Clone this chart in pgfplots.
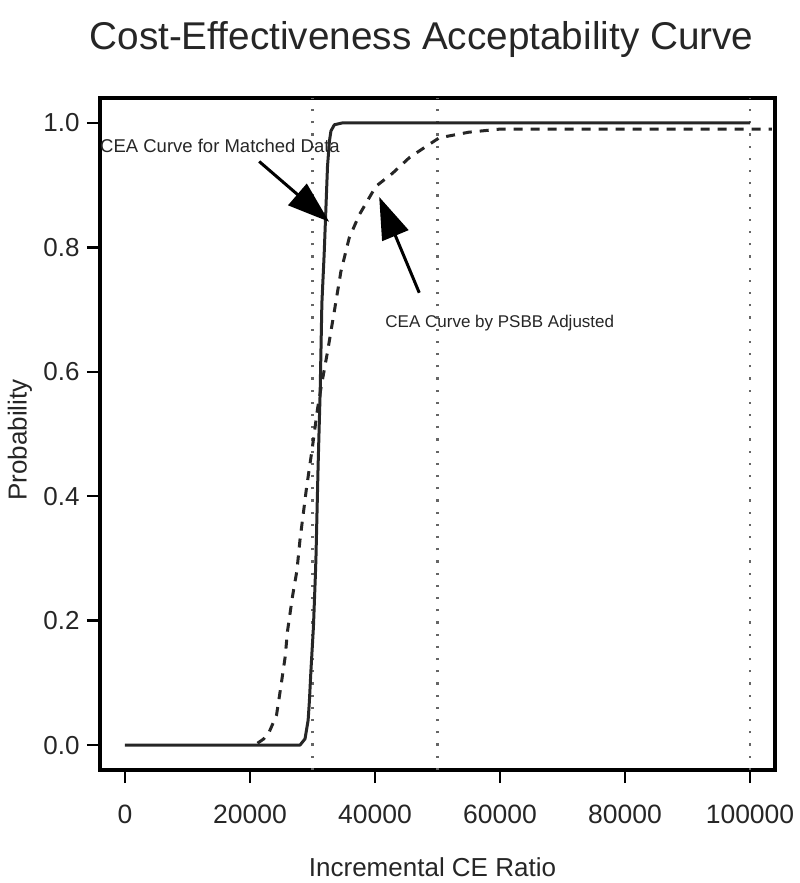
\documentclass[border=0pt]{standalone}
\usepackage{pgfplots}
\pgfplotsset{compat=1.18}
\usepackage{fontspec}
\setmainfont{Liberation Sans}
\usetikzlibrary{arrows.meta}
\definecolor{ink}{gray}{0.15}
\begin{document}
\begin{tikzpicture}
\begin{axis}[
  scale only axis, width=675pt, height=672pt,
  xmin=-4000, xmax=104000, ymin=-0.04, ymax=1.04,
  axis line style={black, line width=3.3pt},
  xtick={0,20000,40000,60000,80000,100000},
  xticklabels={0,20000,40000,60000,80000,100000},
  ytick={0,0.2,0.4,0.6,0.8,1.0},
  yticklabels={0.0,0.2,0.4,0.6,0.8,1.0},
  scaled x ticks=false,
  tick pos=left, tick align=outside,
  major tick length=13pt,
  every tick/.style={black, line width=2.5pt},
  xticklabel style={font=\fontsize{26.5}{30}\selectfont, color=ink, yshift=-18pt},
  yticklabel style={font=\fontsize{26}{30}\selectfont, color=ink, xshift=-4pt},
  clip=false,
]
% reference dotted lines
\addplot[color=black!60, line width=2.2pt, dash pattern=on 2.2pt off 10pt] coordinates {(30000,-0.04) (30000,1.04)};
\addplot[color=black!60, line width=2.2pt, dash pattern=on 2.2pt off 10pt] coordinates {(50000,-0.04) (50000,1.04)};
\addplot[color=black!60, line width=2.2pt, dash pattern=on 2.2pt off 10pt] coordinates {(100000,-0.04) (100000,1.04)};
% matched data (solid)
\addplot[color=ink, line width=3pt, line join=round] coordinates {
(0,0) (28000,0) (28800,0.01) (29300,0.04) (29500,0.07) (29750,0.12) (30150,0.19)
(30450,0.27) (30550,0.30) (30900,0.45) (31230,0.57) (31500,0.71) (31870,0.79)
(32400,0.93) (32700,0.97) (32950,0.987) (33500,0.997) (34800,1.0) (100000,1.0)};
% PSBB adjusted (dashed)
\addplot[color=ink, line width=3pt, dash pattern=on 9pt off 8pt] coordinates {
(21200,0.003) (22200,0.01) (23070,0.021) (24240,0.048) (24940,0.094) (25630,0.142)
(26000,0.183) (26800,0.239) (27500,0.28) (28000,0.33) (29000,0.41) (30000,0.48)
(30800,0.54) (31340,0.573) (32400,0.632) (33470,0.696) (34540,0.761) (35870,0.815)
(37470,0.852) (40140,0.898) (42800,0.919) (45480,0.944) (48150,0.962) (50280,0.976)
(55000,0.985) (60000,0.99) (100000,0.99) (103500,0.99)};
% annotations
\draw[black, line width=3pt, -{Triangle[length=42pt,width=28pt]}] (axis cs:21470,0.938) -- (axis cs:32670,0.841);
\draw[black, line width=3pt, -{Triangle[length=42pt,width=28pt]}] (axis cs:47080,0.727) -- (axis cs:40670,0.881);
\node[anchor=west, inner sep=0pt, font=\fontsize{18.5}{20}\selectfont, color=ink] at (axis cs:-4000,0.963) {CEA Curve for Matched Data};
\node[anchor=west, inner sep=0pt, font=\fontsize{17}{20}\selectfont, color=ink] at (axis cs:41640,0.678) {CEA Curve by PSBB Adjusted};
\end{axis}
\node[font=\fontsize{38.7}{44}\selectfont, color=ink] at ([xshift=-16pt,yshift=58pt]current axis.north) {Cost-Effectiveness Acceptability Curve};
\node[font=\fontsize{26}{30}\selectfont, color=ink] at ([xshift=-5pt,yshift=-97pt]current axis.south) {Incremental CE Ratio};
\node[font=\fontsize{26}{30}\selectfont, color=ink, rotate=90] at ([xshift=-80pt,yshift=-6pt]current axis.west) {Probability};
\path ([xshift=-100pt,yshift=-113pt]current axis.south west) rectangle ([xshift=25pt,yshift=98pt]current axis.north east);
\end{tikzpicture}
\end{document}
